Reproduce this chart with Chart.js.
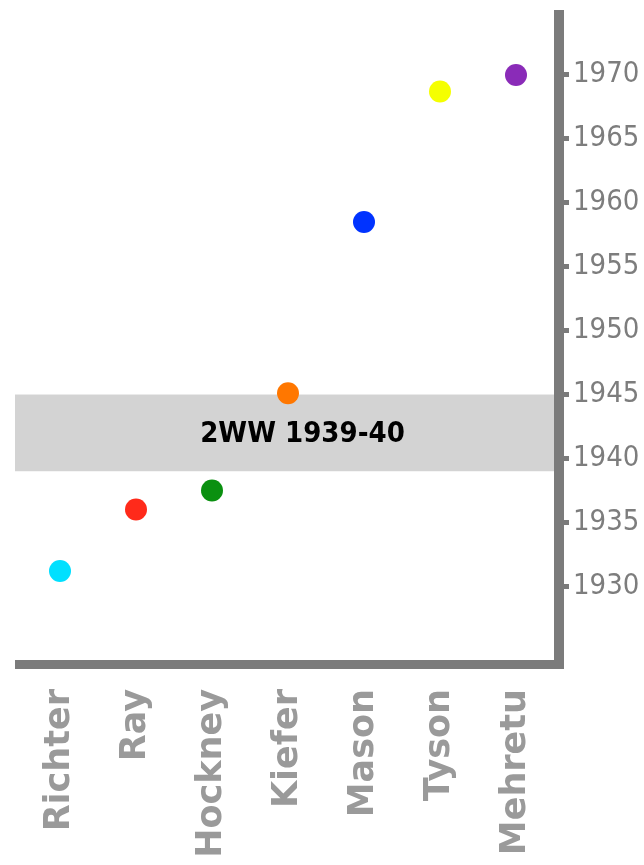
<!DOCTYPE html>
<html lang="en">
<head>
  <meta charset="UTF-8">
  <title>Artists born around the Second World War</title>
  <script src="https://cdn.jsdelivr.net/npm/chart.js"></script>
  <style>
    html, body {
      margin: 0;
      padding: 0;
      background: #ffffff;
    }
    .wrap {
      width: 644px;
      height: 865px;
    }
  </style>
</head>
<body>
  <div class="wrap">
    <canvas id="chart" width="644" height="865"></canvas>
  </div>

<script>
// data
const artists = ["Richter", "Ray", "Hockney", "Kiefer", "Mason", "Tyson", "Mehretu"];
const birthYears = [1931.2, 1936.0, 1937.5, 1945.1, 1958.5, 1968.7, 1970.0];
const dotColors = ["#00e0ff", "#ff2a1a", "#0a9010", "#ff7700", "#0033ff", "#f5ff00", "#8a2bb8"];
const yearTicks = [1930, 1935, 1940, 1945, 1950, 1955, 1960, 1965, 1970];
const warBand = [1939, 1945];
const warLabel = "2WW 1939-40";

const axisGrey = "#7b7b7b";

// grey band for the war years plus the two thick axis lines
const backdrop = {
  id: "backdrop",
  beforeDatasetsDraw(chart) {
    const { ctx, chartArea, scales } = chart;
    const y = scales.y;
    const top = y.getPixelForValue(warBand[1]);
    const bottom = y.getPixelForValue(warBand[0]);
    const left = chartArea.left - 7;
    ctx.save();
    ctx.fillStyle = "#d3d3d3";
    ctx.fillRect(left, top, chartArea.right - left, bottom - top);

    ctx.fillStyle = "#000";
    ctx.font = "bold 29px 'DejaVu Sans Condensed', 'DejaVu Sans', sans-serif";
    ctx.textAlign = "center";
    ctx.textBaseline = "middle";
    ctx.fillText(warLabel, (left + chartArea.right) / 2 + 18, (top + bottom) / 2 + 2);

    // axes
    ctx.fillStyle = axisGrey;
    ctx.fillRect(left, chartArea.bottom - 3, chartArea.right + 10 - left, 9);
    ctx.fillRect(chartArea.right, chartArea.top - 1, 10, chartArea.bottom + 7 - chartArea.top);
    ctx.restore();
  }
};

const ctx = document.getElementById("chart").getContext("2d");
new Chart(ctx, {
  type: "line",
  data: {
    labels: artists,
    datasets: [{
      data: birthYears,
      showLine: false,
      pointRadius: 11,
      pointHoverRadius: 11,
      pointBorderWidth: 0,
      pointBackgroundColor: dotColors,
      pointBorderColor: dotColors
    }]
  },
  options: {
    responsive: false,
    animation: false,
    layout: { padding: { left: 22, top: 8, right: 0, bottom: 0 } },
    plugins: {
      legend: { display: false },
      tooltip: { enabled: false }
    },
    scales: {
      x: {
        offset: true,
        grid: { display: false },
        border: { display: false },
        afterFit(scale) {
          scale.height = 202;
          scale.paddingLeft = 0;
          scale.paddingRight = 0;
        },
        ticks: {
          minRotation: 90,
          maxRotation: 90,
          padding: 18,
          color: "#9a9a9a",
          font: { family: "'DejaVu Sans', sans-serif", size: 35, weight: "bold" }
        }
      },
      y: {
        position: "right",
        min: 1924,
        max: 1975,
        afterBuildTicks(scale) {
          scale.ticks = yearTicks.map(v => ({ value: v }));
        },
        afterFit(scale) {
          scale.width = 90;
          scale.paddingTop = 0;
          scale.paddingBottom = 0;
        },
        grid: {
          drawOnChartArea: false,
          drawTicks: true,
          tickLength: 15,
          tickWidth: 5,
          color: axisGrey
        },
        border: { display: false },
        ticks: {
          padding: 4,
          color: "#7d7d7d",
          font: { family: "'DejaVu Sans Condensed', 'DejaVu Sans', sans-serif", size: 29 },
          callback: (v) => String(v)
        }
      }
    }
  },
  plugins: [backdrop]
});
</script>
</body>
</html>
